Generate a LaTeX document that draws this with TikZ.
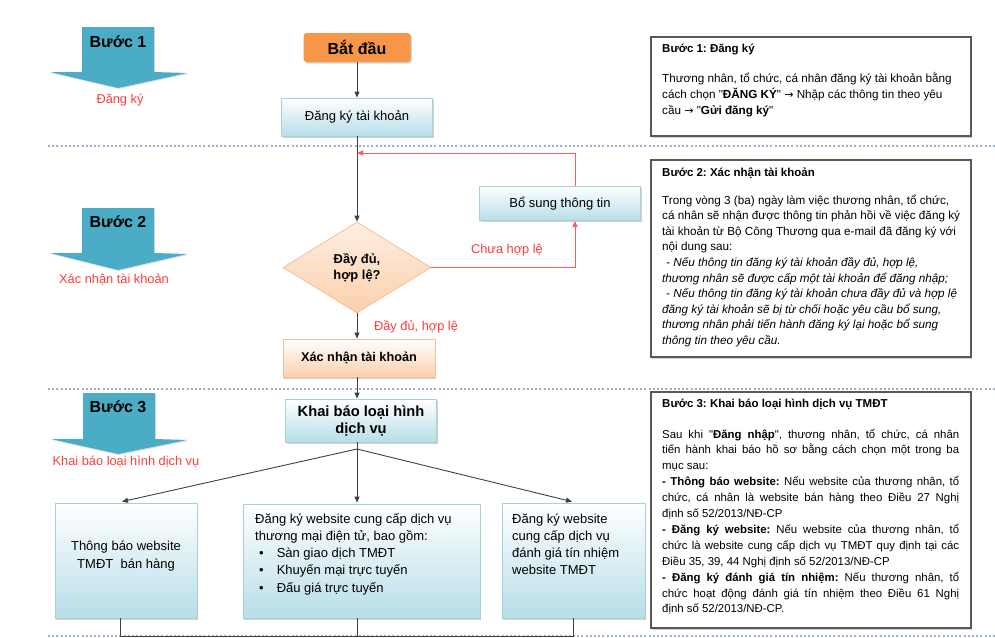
\documentclass[tikz,border=0pt]{standalone}
\usepackage{fontspec}
\setmainfont{Liberation Sans}
\newfontfamily\djv{DejaVu Sans}
\usetikzlibrary{arrows.meta,shapes.geometric,shadows,calc}
\frenchspacing

\definecolor{stepblue}{HTML}{4BACC6}
\definecolor{boxblue}{HTML}{B7DEE8}
\definecolor{boxblueline}{HTML}{A8D0DC}
\definecolor{startorange}{HTML}{F79646}
\definecolor{peach}{HTML}{FBD0AC}
\definecolor{peachline}{HTML}{F6BE94}
\definecolor{redtxt}{HTML}{FF3B3B}
\definecolor{redline}{HTML}{FF5A5A}
\definecolor{dotline}{HTML}{9DAECB}
\definecolor{conngray}{HTML}{404040}
\definecolor{framegray}{HTML}{595959}

\newcommand{\fsz}[2]{\fontsize{#1}{#2}\selectfont}
\newcommand{\jl}[1]{\makebox[297pt][s]{#1}}
\newcommand{\rarr}{{\djv\fontsize{11}{12}\selectfont →}}
\newcommand{\qq}{\textquotedbl}

\tikzset{
  shd/.style={drop shadow={shadow xshift=1.3pt, shadow yshift=-1.6pt, opacity=0.3, fill=black!60}},
  bluebox/.style={draw=boxblueline, line width=0.8pt, top color=white, bottom color=boxblue, shd, inner sep=2pt, align=center},
  peachbox/.style={draw=peachline, line width=0.8pt, top color=white, bottom color=peach, shd, inner sep=2pt, align=center},
  infobox/.style={draw=framegray, line width=1.1pt, fill=white, shd, inner sep=0pt},
  flow/.style={draw=conngray, line width=0.9pt, -{Triangle[length=6pt,width=5pt]}},
  plainline/.style={draw=conngray, line width=0.9pt},
  redflow/.style={draw=redline, line width=0.9pt, -{Triangle[length=6pt,width=5pt]}},
  dotsep/.style={draw=dotline, line width=1.6pt, dash pattern=on 2pt off 2.2pt},
  stepshape/.style={fill=stepblue, drop shadow={shadow xshift=1pt, shadow yshift=-1pt, opacity=0.25}},
  steptitle/.style={font=\fsz{16}{18}\bfseries, inner sep=0pt},
  redlabel/.style={text=redtxt, font=\fsz{12.8}{15}, inner sep=0pt},
  txt/.style={inner sep=0pt, anchor=base west},
}

\begin{document}
\begin{tikzpicture}[x=1pt,y=-1pt]
\useasboundingbox (0,0) rectangle (995,637);

% dotted separators
\coordinate (d1a) at (48,146);   \coordinate (d1b) at (995,146);
\coordinate (d2a) at (48,389);   \coordinate (d2b) at (995,389);
\coordinate (d3a) at (48,636);   \coordinate (d3b) at (995,636);
\draw[dotsep] (d1a) -- (d1b);
\draw[dotsep] (d2a) -- (d2b);
\draw[dotsep] (d3a) -- (d3b);

% step arrows
\fill[stepshape] (82,27) -- (154,27) -- (154,72) -- (187,73) -- (118,88) -- (50,72) -- (82,72) -- cycle;
\fill[stepshape] (82,208) -- (154,208) -- (154,253) -- (187,254) -- (118,270) -- (50,253) -- (82,253) -- cycle;
\fill[stepshape] (83,393) -- (155,393) -- (155,439) -- (187,440) -- (118,454) -- (51,439) -- (83,439) -- cycle;
\node[steptitle] (s1) at (118,42) {Bước 1};
\node[steptitle] (s2) at (118,222) {Bước 2};
\node[steptitle] (s3) at (118,407) {Bước 3};
\node[redlabel] (l1) at (120,100) {Đăng ký};
\node[redlabel] (l2) at (114,280) {Xác nhận tài khoản};
\node[redlabel] (l3) at (126,462) {Khai báo loại hình dịch vụ};

% flow nodes
\node[fill=startorange, rounded corners=3pt, minimum width=107pt, minimum height=29pt, inner sep=0pt, shd, font=\fsz{16}{18}\bfseries] (start) at (357,47.5) {Bắt đầu};
\node[bluebox, minimum width=151pt, minimum height=38pt, font=\fsz{13}{15}] (reg) at (357,117) {Đăng ký tài khoản};
\node[diamond, draw=peachline, line width=0.8pt, top color=peach!35, bottom color=peach, minimum width=148pt, minimum height=91pt, inner sep=0pt, align=center, font=\fsz{12.9}{16}\bfseries] (dia) at (357,267.5) {Đầy đủ,\\hợp lệ?};
\node[bluebox, minimum width=161pt, minimum height=34pt, font=\fsz{13}{15}] (bosung) at (560,203.5) {Bổ sung thông tin};
\node[peachbox, minimum width=152pt, minimum height=38pt, font=\fsz{12.7}{15}\bfseries] (xac) at (359,358) {Xác nhận tài khoản};
\node[bluebox, minimum width=151pt, minimum height=43pt, font=\fsz{14.7}{17}\bfseries] (khai) at (361,420.5) {Khai báo loại hình\\dịch vụ};

\node[redlabel] (lbad) at (507,250) {Chưa hợp lệ};
\node[redlabel] (lok) at (416,327) {Đầy đủ, hợp lệ};

% bottom boxes
\node[bluebox, minimum width=142pt, minimum height=115pt] (bL) at (126,560.5) {};
\node[bluebox, minimum width=237pt, minimum height=114pt] (bM) at (361.5,561) {};
\node[bluebox, minimum width=143pt, minimum height=115pt] (bR) at (573.5,560.5) {};
\node[inner sep=0pt, align=center, font=\fsz{13}{18.7}] (bLt) at (126,556) {Thông báo website\\TMĐT\ \ bán hàng};
\node[txt] (bMt) at (255,523) {\vtop{\hsize=225pt\parindent=0pt\fsz{13}{17.3}\raggedright
Đăng ký website cung cấp dịch vụ\\
thương mại điện tử, bao gồm:\\
\hspace*{4pt}•\hspace{13pt}Sàn giao dịch TMĐT\\
\hspace*{4pt}•\hspace{13pt}Khuyến mại trực tuyến\\
\hspace*{4pt}•\hspace{13pt}Đấu giá trực tuyến}};
\node[txt] (bRt) at (512,523) {\vtop{\hsize=130pt\parindent=0pt\fsz{13}{17}\raggedright
Đăng ký website\\
cung cấp dịch vụ\\
đánh giá tín nhiệm\\
website TMĐT}};

% info boxes
\node[infobox, minimum width=320pt, minimum height=99pt] (t1) at (811,86.5) {};
\node[infobox, minimum width=320pt, minimum height=197pt] (t2) at (811,258.5) {};
\node[infobox, minimum width=320pt, minimum height=236pt] (t3) at (811,510) {};

\node[txt, font=\fsz{11.5}{13}\bfseries] (t1h) at (662,52) {Bước 1: Đăng ký};
\node[txt] (t1b) at (662,82) {\vtop{\hsize=305pt\parindent=0pt\fsz{11.7}{16}\raggedright
Thương nhân, tổ chức, cá nhân đăng ký tài khoản bằng\\
cách chọn \qq\textbf{ĐĂNG KÝ}\qq{} \rarr{} Nhập các thông tin theo yêu\\
cầu \rarr{} \qq\textbf{Gửi đăng ký}\qq}};

\node[txt, font=\fsz{11.5}{13}\bfseries] (t2h) at (662,176) {Bước 2: Xác nhận tài khoản};
\node[txt] (t2b) at (662,204) {\vtop{\hsize=305pt\parindent=0pt\fsz{11.7}{15.6}\raggedright
Trong vòng 3 (ba) ngày làm việc thương nhân, tổ chức,\\
cá nhân sẽ nhận được thông tin phản hồi về việc đăng ký\\
tài khoản từ Bộ Công Thương qua e-mail đã đăng ký với\\
nội dung sau:\\
\itshape\hspace*{4pt}- Nếu thông tin đăng ký tài khoản đầy đủ, hợp lệ,\\
thương nhân sẽ được cấp một tài khoản để đăng nhập;\\
\hspace*{4pt}- Nếu thông tin đăng ký tài khoản chưa đầy đủ và hợp lệ\\
đăng ký tài khoản sẽ bị từ chối hoặc yêu cầu bổ sung,\\
thương nhân phải tiến hành đăng ký lại hoặc bổ sung\\
thông tin theo yêu cầu.}};

\node[txt, font=\fsz{11.5}{13}\bfseries] (t3h) at (662,407) {Bước 3: Khai báo loại hình dịch vụ TMĐT};
\node[txt] (t3b) at (662,438) {\vtop{\hsize=305pt\parindent=0pt\fsz{11.4}{15.9}\raggedright
\jl{Sau khi \qq\textbf{Đăng nhập}\qq, thương nhân, tổ chức, cá nhân}\\
\jl{tiến hành khai báo hồ sơ bằng cách chọn một trong ba}\\
mục sau:\\
\jl{\textbf{- Thông báo website:} Nếu website của thương nhân, tổ}\\
\jl{chức, cá nhân là website bán hàng theo Điều 27 Nghị}\\
định số 52/2013/NĐ-CP\\
\jl{\textbf{- Đăng ký website:} Nếu website của thương nhân, tổ}\\
\jl{chức là website cung cấp dịch vụ TMĐT quy định tại các}\\
Điều 35, 39, 44 Nghị định số 52/2013/NĐ-CP\\
\jl{\textbf{- Đăng ký đánh giá tín nhiệm:} Nếu thương nhân, tổ}\\
\jl{chức hoạt động đánh giá tín nhiệm theo Điều 61 Nghị}\\
định số 52/2013/NĐ-CP.}};

% connectors
\coordinate (ret) at (357,153);
\coordinate (br) at (357,449);
\coordinate (bot) at (0,636);
\coordinate (eL) at (120,636);
\coordinate (eR) at (573,636);
\draw[flow] (start) -- (reg);
\draw[flow] (reg) -- (dia);
\draw[redflow] (dia.east) -| ($(bosung.south)+(15,0)$);
\draw[redflow] ($(bosung.north)+(15,0)$) |- (ret);
\draw[flow] (dia.south) -- (xac.north -| dia.south);
\draw[flow] (xac.south -| br) -- (khai.north -| br);
\draw[plainline] (khai.south -| br) -- (br);
\draw[flow] (br) -- ($(bL.north)+(-4,-1)$);
\draw[flow] (br) -- ($(bM.north -| br)+(0,-1)$);
\draw[flow] (br) -- ($(bR.north)+(-1.5,-1)$);
\draw[plainline] (bL.south -| eL) -- (eL) -- (eR) -- (bR.south -| eR);
\draw[plainline] (bM.south -| br) -- (br |- bot);
\end{tikzpicture}
\end{document}
